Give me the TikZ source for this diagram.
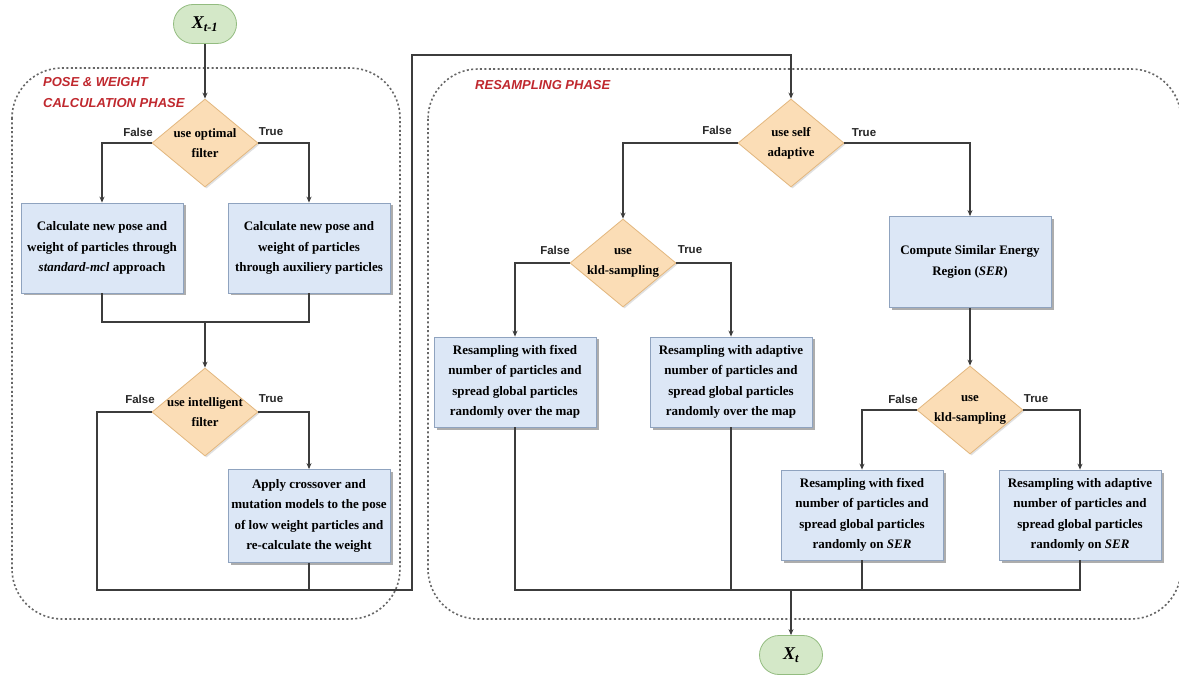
\documentclass[tikz,border=0pt]{standalone}
\usepackage{fontspec}
\setmainfont{Liberation Serif}
\setsansfont{Liberation Sans}
\usetikzlibrary{shapes.geometric,shapes.misc,shadows,arrows.meta}
\definecolor{boxfill}{HTML}{DCE7F6}
\definecolor{boxline}{HTML}{8FA3BF}
\definecolor{diafill}{HTML}{FBDDB6}
\definecolor{dialine}{HTML}{E3B77E}
\definecolor{termfill}{HTML}{D4E8C8}
\definecolor{termline}{HTML}{93BC80}
\definecolor{linecol}{HTML}{3C3C3C}
\definecolor{phasered}{HTML}{C0282E}
\definecolor{regcol}{HTML}{666666}
\begin{document}
\begin{tikzpicture}[x=1pt,y=-1pt,
 procbox/.style={draw=boxline, fill=boxfill, line width=0.8pt, minimum width=162pt, minimum height=90pt, inner sep=2pt, align=center, font=\bfseries\fontsize{13}{20.5}\selectfont, drop shadow={shadow xshift=2.5pt, shadow yshift=-2.5pt, fill=gray!80, opacity=0.8}},
 dia/.style={diamond, draw=dialine, fill=diafill, line width=0.8pt, minimum width=106pt, minimum height=88pt, inner sep=0pt, drop shadow={shadow xshift=1.5pt, shadow yshift=-1.5pt, fill=gray!40, opacity=0.6}},
 dtxt/.style={align=center, font=\bfseries\fontsize{12.8}{20}\selectfont, inner sep=0pt},
 term/.style={rounded rectangle, draw=termline, fill=termfill, line width=0.8pt, minimum width=67pt, minimum height=39pt, inner sep=2pt, font=\bfseries\itshape\fontsize{18}{18}\selectfont},
 conn/.style={draw=linecol, line width=1.1pt, -{Stealth[length=6pt,width=5pt]}},
 wire/.style={draw=linecol, line width=1.1pt},
 tf/.style={font=\sffamily\bfseries\fontsize{11.5}{11.5}\selectfont, text=black!85, inner sep=1pt},
 region/.style={draw=regcol, line width=1.6pt, dash pattern=on 2pt off 2.4pt, rounded corners=50pt},
 phase/.style={font=\sffamily\bfseries\itshape\fontsize{13}{21}\selectfont, text=phasered, align=left, inner sep=0pt}
]
\useasboundingbox (0,0) rectangle (1179,679);
\clip (0,0) rectangle (1179,679);
\fill[white] (0,0) rectangle (1179,679);

% phase regions
\draw[region] (12,68) rectangle (400,619);
\draw[region] (428,69) rectangle (1181,619);
\node[phase, anchor=west] (ph1) at (43,92.5) {POSE \& WEIGHT\\CALCULATION PHASE};
\node[phase, anchor=west] (ph2) at (475,85) {RESAMPLING PHASE};

% nodes
\node[term] (xs) at (205,24) {X\textsubscript{t-1}};
\node[dia, label={[dtxt]center:{use optimal\\filter}}] (d1) at (205,143) {};
\node[procbox] (b1) at (102,248) {Calculate new pose and\\weight of particles through\\\textit{standard-mcl} approach};
\node[procbox] (b2) at (309,248) {Calculate new pose and\\weight of particles\\through auxiliery particles};
\node[dia, label={[dtxt]center:{use intelligent\\filter}}] (d2) at (205,412) {};
\node[procbox, minimum height=93pt] (b3) at (309,516) {Apply crossover and\\mutation models to the pose\\of low weight particles and\\re-calculate the weight};

\node[dia, label={[dtxt]center:{use self\\adaptive}}] (d3) at (791,143) {};
\node[dia, label={[dtxt]center:{use\\kld-sampling}}] (d4) at (623,263) {};
\node[procbox, minimum height=91pt] (bser) at (970,262) {Compute Similar Energy\\Region (\textit{SER})};
\node[procbox] (b4) at (515,382) {Resampling with fixed\\number of particles and\\spread global particles\\randomly over the map};
\node[procbox] (b5) at (731,382) {Resampling with adaptive\\number of particles and\\spread global particles\\randomly over the map};
\node[dia, label={[dtxt]center:{use\\kld-sampling}}] (d5) at (970,410) {};
\node[procbox] (b6) at (862,515) {Resampling with fixed\\number of particles and\\spread global particles\\randomly on \textit{SER}};
\node[procbox] (b7) at (1080,515) {Resampling with adaptive\\number of particles and\\spread global particles\\randomly on \textit{SER}};
\node[term] (xe) at (791,655) {X\textsubscript{t}};

% branch labels
\node[tf] (f1) at (138,132) {False};
\node[tf] (t1) at (271,132) {True};
\node[tf] (f2) at (140,399) {False};
\node[tf] (t2) at (271,399) {True};
\node[tf] (f3) at (717,130) {False};
\node[tf] (t3) at (864,133) {True};
\node[tf] (f4) at (555,250) {False};
\node[tf] (t4) at (690,250) {True};
\node[tf] (f5) at (903,399) {False};
\node[tf] (t5) at (1036,399) {True};

% junction coordinates
\coordinate (m1) at (205,322);
\coordinate (lc) at (97,590);
\coordinate (lr) at (412,590);
\coordinate (lt) at (412,55);
\coordinate (rt) at (791,55);
\coordinate (jb) at (791,590);

% connectors
\draw[conn] (xs.south) -- (d1.north);
\draw[conn] (d1.west) -| (b1.north);
\draw[conn] (d1.east) -| (b2.north);
\draw[wire] (b1.south) |- (m1) -| (b2.south);
\draw[conn] (m1) -- (d2.north);
\draw[conn] (d2.east) -| (b3.north);
\draw[conn] (d2.west) -| (lc) -- (lr) -- (lt) -- (rt) -- (d3.north);
\draw[wire] (b3.south) -- (b3.south |- lc);

\draw[conn] (d3.west) -| (d4.north);
\draw[conn] (d3.east) -| (bser.north);
\draw[conn] (d4.west) -| (b4.north);
\draw[conn] (d4.east) -| (b5.north);
\draw[conn] (bser.south) -- (d5.north);
\draw[conn] (d5.west) -| (b6.north);
\draw[conn] (d5.east) -| (b7.north);
\draw[wire] (b4.south) |- (b7.south |- jb) -- (b7.south);
\draw[wire] (b5.south) -- (b5.south |- jb);
\draw[wire] (b6.south) -- (b6.south |- jb);
\draw[conn] (jb) -- (xe.north);
\end{tikzpicture}
\end{document}
